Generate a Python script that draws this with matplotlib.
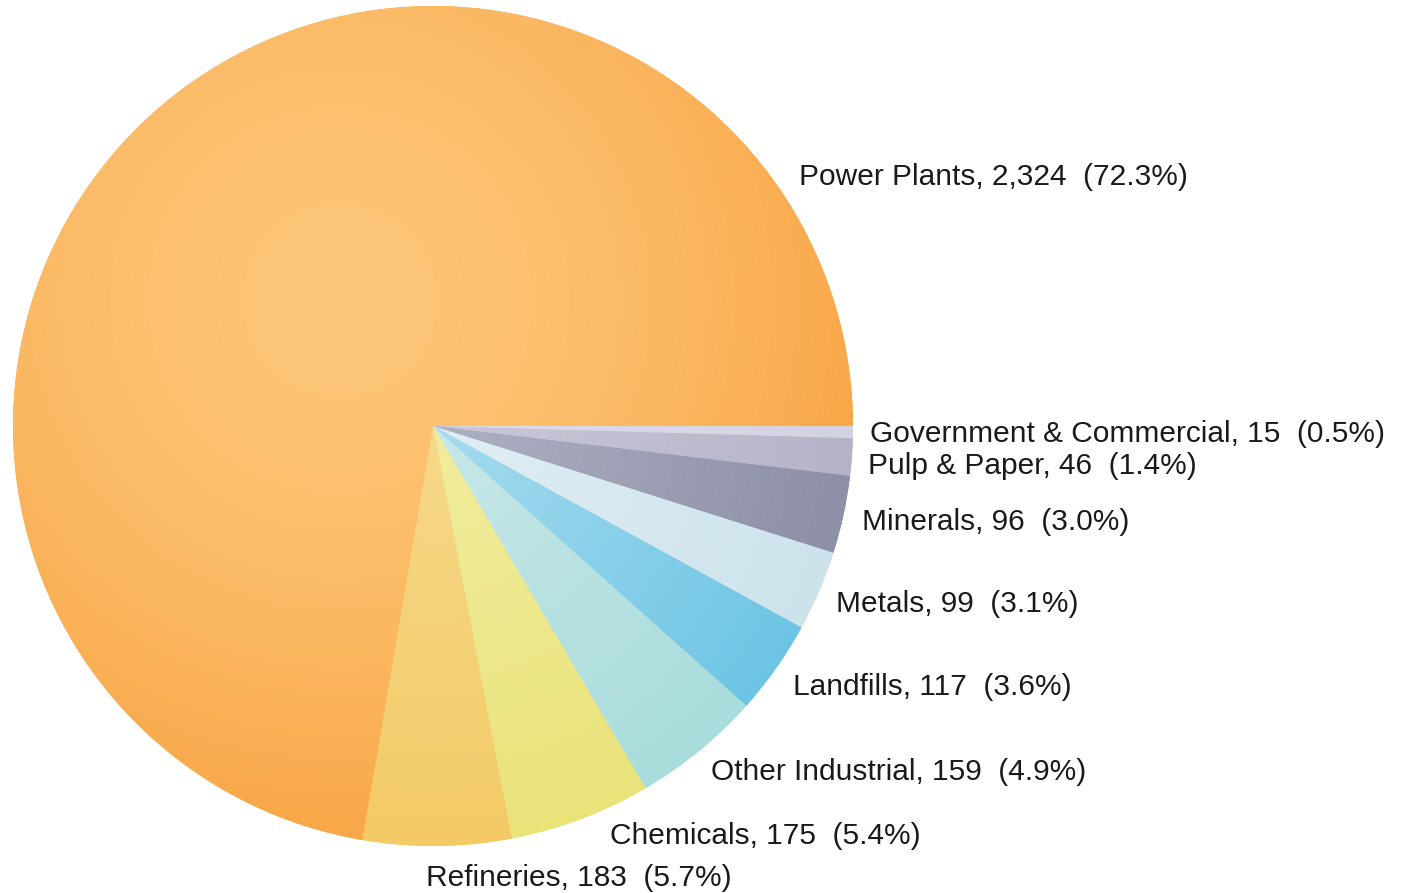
import numpy as np
import matplotlib
matplotlib.use("Agg")
import matplotlib.pyplot as plt
from matplotlib.colors import to_rgb

# data, clockwise from 3 o'clock
categories = ["Government & Commercial", "Pulp & Paper", "Minerals", "Metals",
              "Landfills", "Other Industrial", "Chemicals", "Refineries", "Power Plants"]
values = [15, 46, 96, 99, 117, 159, 175, 183, 2324]
percents = [0.5, 1.4, 3.0, 3.1, 3.6, 4.9, 5.4, 5.7, 72.3]

# (inner colour, rim colour) for each slice
inner_cols = ["#dedeea", "#cbc8da", "#aeb1c2", "#e0eef4", "#a6dbee", "#c8e7e8", "#f1ed9e", "#f6d98a", "#fdc679"]
rim_cols = ["#d2d2e2", "#b6b2c8", "#8d90a6", "#cde3ec", "#6dc5e5", "#a9dcdc", "#e9e37a", "#f3ca66", "#f9a849"]

# label anchor points (pixels, left edge / vertical centre)
label_pos = [(870, 434), (868, 466), (862, 522), (836, 604), (793, 687),
             (711, 772), (610, 836), (426, 878), (799, 177)]

W, H = 1410, 893
cx, cy, R = 433, 426, 420

plt.rcParams['font.family'] = ['Liberation Sans', 'DejaVu Sans']

fig = plt.figure(figsize=(W / 100, H / 100), dpi=100)
ax = fig.add_axes([0, 0, 1, 1])

wedges, _ = ax.pie(values, startangle=0, counterclock=True, center=(cx, cy),
                   radius=R, colors=rim_cols, wedgeprops=dict(linewidth=0))
ax.set_xlim(0, W)
ax.set_ylim(H, 0)
ax.set_aspect('equal')
ax.axis('off')

# gradient fill clipped to each wedge
yy, xx = np.mgrid[0:H, 0:W] + 0.5
dist = np.hypot(xx - cx, yy - cy) / R
# power plants glow is off-centre (upper left)
dist_pp = np.hypot(xx - 340, yy - 300) / (R * 1.25)
for i, w in enumerate(wedges):
    d = dist_pp if categories[i] == "Power Plants" else dist
    t = np.clip(d, 0, 1)[..., None]
    if categories[i] == "Power Plants":
        t = t ** 1.6
    c0 = np.array(to_rgb(inner_cols[i]))
    c1 = np.array(to_rgb(rim_cols[i]))
    img = c0 * (1 - t) + c1 * t
    im = ax.imshow(img, extent=(0, W, H, 0), origin='upper', zorder=1,
                   interpolation='bilinear')
    im.set_clip_path(w)
    w.set_zorder(0)

for name, v, p, (x, y) in zip(categories, values, percents, label_pos):
    ax.text(x, y, f"{name}, {v:,}  ({p}%)", fontsize=21.5, color="#1a1a1a",
            ha='left', va='center', zorder=3)

fig.savefig("out.png", dpi=100)
